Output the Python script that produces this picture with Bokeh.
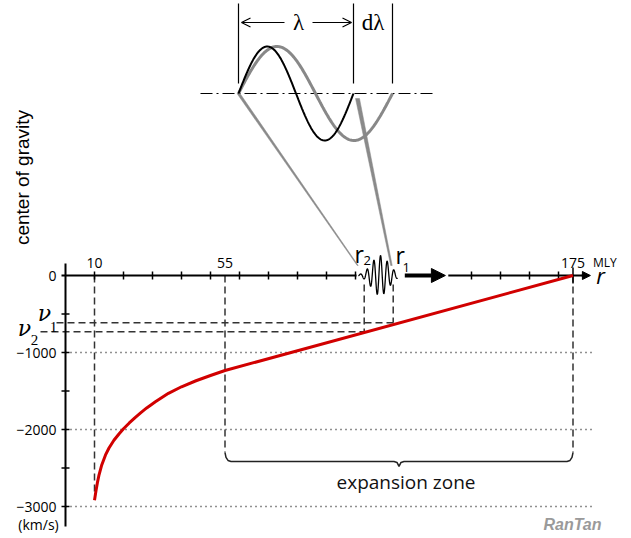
import numpy as np
from bokeh.plotting import figure
from bokeh.models import Range1d, Arrow, NormalHead, OpenHead
from bokeh.core.properties import value
from bokeh.embed import file_html
from bokeh.resources import INLINE

# ---------------- data ----------------
r_curve = [10, 10.5, 11, 11.5, 12.5, 13.8, 15, 16.7, 18.5, 20, 22, 24, 26, 28, 31, 35.5, 40, 45, 50, 55, 175]
v_curve = [-2920, -2800, -2690, -2600, -2460, -2330, -2240, -2140, -2055, -1990, -1915, -1845, -1780,
           -1720, -1640, -1530, -1445, -1367, -1299, -1234, 0]

x_ticks_a = [10, 20, 30, 40, 50, 60, 70, 80, 90, 100]
x_ticks_b = [140, 150, 160, 170]
x_marks = [10, 55, 175]
x_mark_labels = ["10", "55", "175"]
y_ticks = [-500, -1000, -1500, -2000, -2500, -3000]
y_label_vals = [0, -1000, -2000, -3000]
y_labels = ["0", "\u22121000", "\u22122000", "\u22123000"]
grid_vals = [-1000, -2000, -3000]

r1, r2 = 113, 103
nu1, nu2 = -615, -730
zone_start, zone_end = 55, 175
r_max = 180

# ---------------- geometry ----------------
W, H = 631, 538
OX, OY = 65, 275
SX, SY = 2.9, 0.077


def dx(px):
    return px / SX


def dy(px):
    return px / SY


def X(r):
    return OX + SX * r


def Y(v):
    return OY - SY * v


p = figure(width=W, height=H, output_backend="svg", toolbar_location=None,
           x_range=Range1d(-OX / SX, (W - OX) / SX), y_range=Range1d(-(H - OY) / SY, OY / SY),
           min_border=0, outline_line_color=None, x_axis_location=None, y_axis_location=None,
           background_fill_color="white", border_fill_color="white")
p.grid.visible = False
p.extra_x_ranges = {"px": Range1d(0, W)}
p.extra_y_ranges = {"px": Range1d(H, 0)}
PX = dict(x_range_name="px", y_range_name="px")

SANS = value("Open Sans")
SERIF = value("Liberation Serif")
DASH = "7 4"
DCOL = "#333333"

# dotted reference lines
p.multi_line(xs=[[0, r_max + 2] for _ in grid_vals], ys=[[g, g] for g in grid_vals],
             line_color="#222222", line_width=1.5, line_dash="1 4")

# dashed verticals
p.multi_line(xs=[[10, 10], [55, 55], [175, 175]],
             ys=[[0, v_curve[0] + 80], [0, -2300], [0, -2300]],
             line_color=DCOL, line_width=1.5, line_dash=DASH)
p.multi_line(xs=[[r2, r2], [r1, r1]], ys=[[-dy(9), nu2], [-dy(9), nu1]],
             line_color=DCOL, line_width=1.5, line_dash=DASH)
# dashed horizontals (nu levels)
p.multi_line(xs=[[-dx(9), r1], [-dx(25), r2]], ys=[[nu1, nu1], [nu2, nu2]],
             line_color=DCOL, line_width=1.5, line_dash=DASH)

# brace for expansion zone
bl = -2415
c = (zone_start + zone_end) / 2
bx = [zone_start, zone_start + dx(1), zone_start + dx(3), zone_start + dx(6),
      c - dx(5), c - dx(2), c, c + dx(2), c + dx(5),
      zone_end - dx(6), zone_end - dx(3), zone_end - dx(1), zone_end]
by = [-2300, bl + dy(4), bl + dy(1), bl,
      bl, bl - dy(1), bl - dy(5), bl - dy(1), bl,
      bl, bl + dy(1), bl + dy(4), -2300]
p.line(bx, by, line_color="#222222", line_width=1.5)
p.text(x=[c + dx(7)], y=[bl - dy(21)], text=["expansion zone"], text_font=SANS,
       text_font_size="19px", text_align="center", text_baseline="alphabetic", text_color="#111111")

# axes
p.line([0, 0], [dy(12), -dy(251)], line_color="black", line_width=2)
p.line([-dx(4), 100 + dx(1)], [0, 0], line_color="black", line_width=2)
p.line([132, r_max], [0, 0], line_color="black", line_width=2)
p.add_layout(Arrow(end=NormalHead(size=8, fill_color="black", line_color="black"),
                   x_start=r_max - 2, y_start=0, x_end=r_max + 1, y_end=0,
                   line_width=2, line_color="black"))
xt = x_ticks_a + x_ticks_b
p.segment(x0=xt, y0=[dy(4)] * len(xt), x1=xt, y1=[-dy(4)] * len(xt), line_color="black", line_width=1.5)
p.segment(x0=[175], y0=[dy(8)], x1=[175], y1=[-dy(8)], line_color="black", line_width=1.5)
p.segment(x0=[-dx(4)] * len(y_ticks), y0=y_ticks, x1=[dx(4)] * len(y_ticks), y1=y_ticks,
          line_color="black", line_width=1.5)

# big arrow
p.add_layout(Arrow(end=NormalHead(size=14, fill_color="black", line_color="black"),
                   x_start=117, y_start=0, x_end=131, y_end=0, line_width=4, line_color="black"))

# wave packet between r2 and r1
rp = np.linspace(r2 - 2, r1 + 1.5, 240)
cp = (r2 + r1) / 2 + 0.5
vp = 260 * np.exp(-((rp - cp) / 4.2) ** 2) * np.sin(2 * np.pi * (rp - cp) / 2.3 + 1.2)
p.line(rp, vp, line_color="black", line_width=1.3)

# red curve
p.line(r_curve, v_curve, line_color="#d10000", line_width=3, line_join="round")

# tick labels
p.text(x=[-dx(9)] * len(y_label_vals), y=y_label_vals, text=y_labels, text_font=SANS,
       text_font_size="14px", text_align="right", text_baseline="middle", text_color="black")
p.text(x=x_marks, y=[dy(13)] * 3, text=x_mark_labels, text_font=SANS, text_font_size="14px",
       text_align="center", text_baseline="middle", text_color="black")
p.text(x=[175 + dx(20)], y=[dy(13)], text=["MLY"], text_font=SANS, text_font_size="12px",
       text_align="left", text_baseline="middle", text_color="black")
p.text(x=[r_max + dx(13)], y=[dy(1)], text=["r"], text_font=SANS, text_font_size="22px",
       text_font_style="italic", text_align="center", text_baseline="middle", text_color="black")
p.text(x=[-dx(27)], y=[-dy(249)], text=["(km/s)"], text_font=SANS, text_font_size="14px",
       text_align="center", text_baseline="middle", text_color="black")

# r1 / r2 labels
p.text(x=[r2 - dx(5), r1 + dx(7)], y=[dy(22), dy(21)], text=["r", "r"], text_font=SANS,
       text_font_size="23px", text_align="center", text_baseline="middle", text_color="black")
p.text(x=[r2 + dx(3), r1 + dx(13)], y=[dy(15), dy(8)], text=["2", "1"], text_font=SANS,
       text_font_size="13px", text_align="center", text_baseline="middle", text_color="black")

# nu labels
p.text(x=[-dx(21), -dx(41)], y=[nu1 + dy(9), nu2 + dy(3)], text=["\u03bd", "\u03bd"],
       text_font=value("DejaVu Serif"), text_font_size="22px", text_font_style="italic",
       text_align="center", text_baseline="middle", text_color="black")
p.text(x=[-dx(12), -dx(31)], y=[nu1 - dy(4), nu2 - dy(8)], text=["1", "2"], text_font=SERIF,
       text_font_size="15px", text_align="center", text_baseline="middle", text_color="black")

# y axis title
p.text(x=[22], y=[177], text=["center of gravity"], text_font=value("Liberation Sans"),
       text_font_size="19px", angle=np.pi / 2, text_align="center", text_baseline="middle",
       text_color="black", **PX)

# ---------------- inset (wavelength sketch) ----------------
ix0, lam, dlam, iy0, amp = 238, 115, 39, 93, 47
xs_b = np.linspace(ix0, ix0 + lam, 200)
ys_b = iy0 - amp * np.sin(2 * np.pi * (xs_b - ix0) / lam)
xs_g = np.linspace(ix0, ix0 + lam + dlam, 200)
ys_g = iy0 - amp * np.sin(2 * np.pi * (xs_g - ix0) / (lam + dlam))

# connector wedges
p.patch([ix0 - 1.5, ix0 + 1.5, X(r2) - 6, X(r2) - 7], [iy0, iy0, Y(0) - 10, Y(0) - 10],
        fill_color="#8a8a8a", line_color="#8a8a8a", line_width=0.5, **PX)
p.patch([ix0 + lam + 2, ix0 + lam + 6, X(r1) - 1, X(r1) - 2.5], [iy0 + 5, iy0 + 5, Y(0) - 10, Y(0) - 10],
        fill_color="#8a8a8a", line_color="#8a8a8a", line_width=0.5, **PX)

p.line([200, 432], [iy0, iy0], line_color="black", line_width=1.2, line_dash="12 4 2 4", **PX)
p.line(xs_g, ys_g, line_color="#888888", line_width=3, **PX)
p.line(xs_b, ys_b, line_color="black", line_width=2, **PX)
p.multi_line(xs=[[ix0, ix0], [ix0 + lam, ix0 + lam], [ix0 + lam + dlam, ix0 + lam + dlam]],
             ys=[[3, 83], [3, 83], [3, 83]], line_color="black", line_width=1.2, **PX)
p.add_layout(Arrow(end=OpenHead(size=9, line_width=1.2), x_start=284, y_start=22, x_end=ix0 + 3, y_end=22,
                   line_width=1.2, **PX))
p.add_layout(Arrow(end=OpenHead(size=9, line_width=1.2), x_start=312, y_start=22, x_end=ix0 + lam - 2,
                   y_end=22, line_width=1.2, **PX))
p.text(x=[298, ix0 + lam + dlam / 2], y=[22, 22], text=["\u03bb", "d\u03bb"], text_font=SERIF,
       text_font_size="23px", text_align="center", text_baseline="middle", text_color="black", **PX)

# logo
p.text(x=[572], y=[524], text=["RanTan"], text_font=value("Liberation Sans"), text_font_size="16px",
       text_font_style="bold italic", text_align="center", text_baseline="middle", text_color="#9a9a9a", **PX)

open("out.html", "w").write(file_html(p, INLINE))
